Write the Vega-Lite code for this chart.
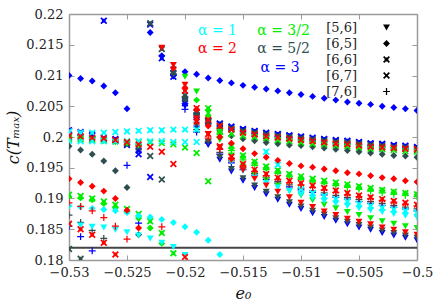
{
"$schema": "https://vega.github.io/schema/vega-lite/v6.json",
"width": 348, "height": 246,
"autosize": {"type": "none"},
"padding": {"left": 69, "top": 14, "right": 19, "bottom": 46},
"background": "white",
"config": {
  "view": {"stroke": null},
  "font": "DejaVu Serif",
  "axis": {"grid": false, "domainColor": "#9a9a9a", "domainWidth": 1.5, "tickColor": "#9a9a9a", "tickWidth": 1, "tickSize": -5,
    "labelFont": "DejaVu Serif", "labelFontSize": 13, "labelColor": "#222", "titleFont": "DejaVu Serif", "titleFontSize": 16, "titleFontWeight": "normal", "titleColor": "#111", "titleFontStyle": "italic"}
},
"datasets": {
"ref": [{"v": 0.182}],
"lab": [
  {"t": "α = 1", "a": "1", "e": -0.5172, "c": 0.2172},
  {"t": "α = 3/2", "a": "3/2", "e": -0.5115, "c": 0.2172},
  {"t": "α = 2", "a": "2", "e": -0.5172, "c": 0.2143},
  {"t": "α = 5/2", "a": "5/2", "e": -0.5115, "c": 0.2143},
  {"t": "α = 3", "a": "3", "e": -0.5118, "c": 0.2112}
],
"pts": [
{"a":"3","s":"[5,6]","e":-0.521,"c":0.2098},{"a":"3","s":"[5,6]","e":-0.52,"c":0.2050},{"a":"3","s":"[5,6]","e":-0.519,"c":0.2014},{"a":"3","s":"[5,6]","e":-0.518,"c":0.1987},{"a":"3","s":"[5,6]","e":-0.517,"c":0.1963},{"a":"3","s":"[5,6]","e":-0.516,"c":0.1944},{"a":"3","s":"[5,6]","e":-0.515,"c":0.1929},{"a":"3","s":"[5,6]","e":-0.514,"c":0.1917},{"a":"3","s":"[5,6]","e":-0.513,"c":0.1907},{"a":"3","s":"[5,6]","e":-0.512,"c":0.1898},{"a":"3","s":"[5,6]","e":-0.511,"c":0.1890},{"a":"3","s":"[5,6]","e":-0.51,"c":0.1883},{"a":"3","s":"[5,6]","e":-0.509,"c":0.1876},{"a":"3","s":"[5,6]","e":-0.508,"c":0.1870},{"a":"3","s":"[5,6]","e":-0.507,"c":0.1864},{"a":"3","s":"[5,6]","e":-0.506,"c":0.1858},{"a":"3","s":"[5,6]","e":-0.505,"c":0.1853},{"a":"3","s":"[5,6]","e":-0.504,"c":0.1849},{"a":"3","s":"[5,6]","e":-0.503,"c":0.1844},{"a":"3","s":"[5,6]","e":-0.502,"c":0.1840},{"a":"3","s":"[5,6]","e":-0.501,"c":0.1836},{"a":"3","s":"[5,6]","e":-0.5,"c":0.1832},
{"a":"3","s":"[6,5]","e":-0.53,"c":0.2100},{"a":"3","s":"[6,5]","e":-0.529,"c":0.2095},{"a":"3","s":"[6,5]","e":-0.528,"c":0.2091},{"a":"3","s":"[6,5]","e":-0.527,"c":0.2083},{"a":"3","s":"[6,5]","e":-0.526,"c":0.2072},{"a":"3","s":"[6,5]","e":-0.525,"c":0.2046},{"a":"3","s":"[6,5]","e":-0.523,"c":0.2170},{"a":"3","s":"[6,5]","e":-0.522,"c":0.2132},{"a":"3","s":"[6,5]","e":-0.521,"c":0.2100},{"a":"3","s":"[6,5]","e":-0.52,"c":0.2106},{"a":"3","s":"[6,5]","e":-0.519,"c":0.2102},{"a":"3","s":"[6,5]","e":-0.518,"c":0.2096},{"a":"3","s":"[6,5]","e":-0.517,"c":0.2092},{"a":"3","s":"[6,5]","e":-0.516,"c":0.2088},{"a":"3","s":"[6,5]","e":-0.515,"c":0.2084},{"a":"3","s":"[6,5]","e":-0.514,"c":0.2081},{"a":"3","s":"[6,5]","e":-0.513,"c":0.2078},{"a":"3","s":"[6,5]","e":-0.512,"c":0.2075},{"a":"3","s":"[6,5]","e":-0.511,"c":0.2072},{"a":"3","s":"[6,5]","e":-0.51,"c":0.2069},{"a":"3","s":"[6,5]","e":-0.509,"c":0.2066},{"a":"3","s":"[6,5]","e":-0.508,"c":0.2063},{"a":"3","s":"[6,5]","e":-0.507,"c":0.2060},{"a":"3","s":"[6,5]","e":-0.506,"c":0.2057},{"a":"3","s":"[6,5]","e":-0.505,"c":0.2055},{"a":"3","s":"[6,5]","e":-0.504,"c":0.2053},{"a":"3","s":"[6,5]","e":-0.503,"c":0.2050},{"a":"3","s":"[6,5]","e":-0.502,"c":0.2048},{"a":"3","s":"[6,5]","e":-0.501,"c":0.2046},{"a":"3","s":"[6,5]","e":-0.5,"c":0.2043},
{"a":"3","s":"[6,6]","e":-0.53,"c":0.2011},{"a":"3","s":"[6,6]","e":-0.529,"c":0.2008},{"a":"3","s":"[6,6]","e":-0.528,"c":0.2004},{"a":"3","s":"[6,6]","e":-0.527,"c":0.2189},{"a":"3","s":"[6,6]","e":-0.526,"c":0.1997},{"a":"3","s":"[6,6]","e":-0.525,"c":0.1990},{"a":"3","s":"[6,6]","e":-0.524,"c":0.1978},{"a":"3","s":"[6,6]","e":-0.523,"c":0.2183},{"a":"3","s":"[6,6]","e":-0.522,"c":0.2128},{"a":"3","s":"[6,6]","e":-0.521,"c":0.2104},{"a":"3","s":"[6,6]","e":-0.52,"c":0.2058},{"a":"3","s":"[6,6]","e":-0.519,"c":0.2035},{"a":"3","s":"[6,6]","e":-0.518,"c":0.2027},{"a":"3","s":"[6,6]","e":-0.517,"c":0.2022},{"a":"3","s":"[6,6]","e":-0.516,"c":0.2017},{"a":"3","s":"[6,6]","e":-0.515,"c":0.2013},{"a":"3","s":"[6,6]","e":-0.514,"c":0.2010},{"a":"3","s":"[6,6]","e":-0.513,"c":0.2007},{"a":"3","s":"[6,6]","e":-0.512,"c":0.2005},{"a":"3","s":"[6,6]","e":-0.511,"c":0.2003},{"a":"3","s":"[6,6]","e":-0.51,"c":0.2001},{"a":"3","s":"[6,6]","e":-0.509,"c":0.1999},{"a":"3","s":"[6,6]","e":-0.508,"c":0.1997},{"a":"3","s":"[6,6]","e":-0.507,"c":0.1995},{"a":"3","s":"[6,6]","e":-0.506,"c":0.1994},{"a":"3","s":"[6,6]","e":-0.505,"c":0.1992},{"a":"3","s":"[6,6]","e":-0.504,"c":0.1990},{"a":"3","s":"[6,6]","e":-0.503,"c":0.1989},{"a":"3","s":"[6,6]","e":-0.502,"c":0.1987},{"a":"3","s":"[6,6]","e":-0.501,"c":0.1986},{"a":"3","s":"[6,6]","e":-0.5,"c":0.1984},
{"a":"3","s":"[6,7]","e":-0.53,"c":0.2010},{"a":"3","s":"[6,7]","e":-0.529,"c":0.2006},{"a":"3","s":"[6,7]","e":-0.528,"c":0.2002},{"a":"3","s":"[6,7]","e":-0.527,"c":0.1999},{"a":"3","s":"[6,7]","e":-0.526,"c":0.1995},{"a":"3","s":"[6,7]","e":-0.525,"c":0.1987},{"a":"3","s":"[6,7]","e":-0.524,"c":0.1972},{"a":"3","s":"[6,7]","e":-0.523,"c":0.1935},{"a":"3","s":"[6,7]","e":-0.521,"c":0.2098},{"a":"3","s":"[6,7]","e":-0.52,"c":0.2055},{"a":"3","s":"[6,7]","e":-0.519,"c":0.2032},{"a":"3","s":"[6,7]","e":-0.518,"c":0.2026},{"a":"3","s":"[6,7]","e":-0.517,"c":0.2021},{"a":"3","s":"[6,7]","e":-0.516,"c":0.2016},{"a":"3","s":"[6,7]","e":-0.515,"c":0.2012},{"a":"3","s":"[6,7]","e":-0.514,"c":0.2009},{"a":"3","s":"[6,7]","e":-0.513,"c":0.2006},{"a":"3","s":"[6,7]","e":-0.512,"c":0.2004},{"a":"3","s":"[6,7]","e":-0.511,"c":0.2002},{"a":"3","s":"[6,7]","e":-0.51,"c":0.2000},{"a":"3","s":"[6,7]","e":-0.509,"c":0.1998},{"a":"3","s":"[6,7]","e":-0.508,"c":0.1996},{"a":"3","s":"[6,7]","e":-0.507,"c":0.1994},{"a":"3","s":"[6,7]","e":-0.506,"c":0.1993},{"a":"3","s":"[6,7]","e":-0.505,"c":0.1991},{"a":"3","s":"[6,7]","e":-0.504,"c":0.1989},{"a":"3","s":"[6,7]","e":-0.503,"c":0.1988},{"a":"3","s":"[6,7]","e":-0.502,"c":0.1986},{"a":"3","s":"[6,7]","e":-0.501,"c":0.1985},{"a":"3","s":"[6,7]","e":-0.5,"c":0.1983},
{"a":"3","s":"[7,6]","e":-0.53,"c":0.1855},{"a":"3","s":"[7,6]","e":-0.529,"c":0.1838},{"a":"3","s":"[7,6]","e":-0.528,"c":0.1815},{"a":"3","s":"[7,6]","e":-0.525,"c":0.1954},{"a":"3","s":"[7,6]","e":-0.524,"c":0.1860},{"a":"3","s":"[7,6]","e":-0.52,"c":0.2045},{"a":"3","s":"[7,6]","e":-0.519,"c":0.2008},{"a":"3","s":"[7,6]","e":-0.518,"c":0.1990},{"a":"3","s":"[7,6]","e":-0.517,"c":0.1972},{"a":"3","s":"[7,6]","e":-0.516,"c":0.1958},{"a":"3","s":"[7,6]","e":-0.515,"c":0.1947},{"a":"3","s":"[7,6]","e":-0.514,"c":0.1938},{"a":"3","s":"[7,6]","e":-0.513,"c":0.1931},{"a":"3","s":"[7,6]","e":-0.512,"c":0.1925},{"a":"3","s":"[7,6]","e":-0.511,"c":0.1919},{"a":"3","s":"[7,6]","e":-0.51,"c":0.1914},{"a":"3","s":"[7,6]","e":-0.509,"c":0.1910},{"a":"3","s":"[7,6]","e":-0.508,"c":0.1906},{"a":"3","s":"[7,6]","e":-0.507,"c":0.1902},{"a":"3","s":"[7,6]","e":-0.506,"c":0.1899},{"a":"3","s":"[7,6]","e":-0.505,"c":0.1895},{"a":"3","s":"[7,6]","e":-0.504,"c":0.1892},{"a":"3","s":"[7,6]","e":-0.503,"c":0.1889},{"a":"3","s":"[7,6]","e":-0.502,"c":0.1886},{"a":"3","s":"[7,6]","e":-0.501,"c":0.1883},{"a":"3","s":"[7,6]","e":-0.5,"c":0.1880},
{"a":"5/2","s":"[5,6]","e":-0.52,"c":0.2060},{"a":"5/2","s":"[5,6]","e":-0.519,"c":0.2020},{"a":"5/2","s":"[5,6]","e":-0.518,"c":0.1992},{"a":"5/2","s":"[5,6]","e":-0.517,"c":0.1967},{"a":"5/2","s":"[5,6]","e":-0.516,"c":0.1948},{"a":"5/2","s":"[5,6]","e":-0.515,"c":0.1933},{"a":"5/2","s":"[5,6]","e":-0.514,"c":0.1921},{"a":"5/2","s":"[5,6]","e":-0.513,"c":0.1911},{"a":"5/2","s":"[5,6]","e":-0.512,"c":0.1902},{"a":"5/2","s":"[5,6]","e":-0.511,"c":0.1894},{"a":"5/2","s":"[5,6]","e":-0.51,"c":0.1887},{"a":"5/2","s":"[5,6]","e":-0.509,"c":0.1880},{"a":"5/2","s":"[5,6]","e":-0.508,"c":0.1874},{"a":"5/2","s":"[5,6]","e":-0.507,"c":0.1868},{"a":"5/2","s":"[5,6]","e":-0.506,"c":0.1862},{"a":"5/2","s":"[5,6]","e":-0.505,"c":0.1857},{"a":"5/2","s":"[5,6]","e":-0.504,"c":0.1853},{"a":"5/2","s":"[5,6]","e":-0.503,"c":0.1848},{"a":"5/2","s":"[5,6]","e":-0.502,"c":0.1844},{"a":"5/2","s":"[5,6]","e":-0.501,"c":0.1840},{"a":"5/2","s":"[5,6]","e":-0.5,"c":0.1836},
{"a":"5/2","s":"[6,5]","e":-0.53,"c":0.1985},{"a":"5/2","s":"[6,5]","e":-0.529,"c":0.1979},{"a":"5/2","s":"[6,5]","e":-0.528,"c":0.1972},{"a":"5/2","s":"[6,5]","e":-0.527,"c":0.1961},{"a":"5/2","s":"[6,5]","e":-0.526,"c":0.1945},{"a":"5/2","s":"[6,5]","e":-0.525,"c":0.1918},{"a":"5/2","s":"[6,5]","e":-0.524,"c":0.1841},{"a":"5/2","s":"[6,5]","e":-0.521,"c":0.2103},{"a":"5/2","s":"[6,5]","e":-0.52,"c":0.2065},{"a":"5/2","s":"[6,5]","e":-0.519,"c":0.2038},{"a":"5/2","s":"[6,5]","e":-0.518,"c":0.2028},{"a":"5/2","s":"[6,5]","e":-0.517,"c":0.2010},{"a":"5/2","s":"[6,5]","e":-0.516,"c":0.2002},{"a":"5/2","s":"[6,5]","e":-0.515,"c":0.1997},{"a":"5/2","s":"[6,5]","e":-0.514,"c":0.1994},{"a":"5/2","s":"[6,5]","e":-0.513,"c":0.1991},{"a":"5/2","s":"[6,5]","e":-0.512,"c":0.1989},{"a":"5/2","s":"[6,5]","e":-0.511,"c":0.1987},{"a":"5/2","s":"[6,5]","e":-0.51,"c":0.1986},{"a":"5/2","s":"[6,5]","e":-0.509,"c":0.1984},{"a":"5/2","s":"[6,5]","e":-0.508,"c":0.1982},{"a":"5/2","s":"[6,5]","e":-0.507,"c":0.1980},{"a":"5/2","s":"[6,5]","e":-0.506,"c":0.1978},{"a":"5/2","s":"[6,5]","e":-0.505,"c":0.1976},{"a":"5/2","s":"[6,5]","e":-0.504,"c":0.1974},{"a":"5/2","s":"[6,5]","e":-0.503,"c":0.1972},{"a":"5/2","s":"[6,5]","e":-0.502,"c":0.1970},{"a":"5/2","s":"[6,5]","e":-0.501,"c":0.1969},{"a":"5/2","s":"[6,5]","e":-0.5,"c":0.1967},
{"a":"5/2","s":"[6,6]","e":-0.53,"c":0.1818},{"a":"5/2","s":"[6,6]","e":-0.529,"c":0.1802},{"a":"5/2","s":"[6,6]","e":-0.523,"c":0.2185},{"a":"5/2","s":"[6,6]","e":-0.522,"c":0.2143},{"a":"5/2","s":"[6,6]","e":-0.521,"c":0.2110},{"a":"5/2","s":"[6,6]","e":-0.52,"c":0.2068},{"a":"5/2","s":"[6,6]","e":-0.519,"c":0.2040},{"a":"5/2","s":"[6,6]","e":-0.518,"c":0.2026},{"a":"5/2","s":"[6,6]","e":-0.517,"c":0.2019},{"a":"5/2","s":"[6,6]","e":-0.516,"c":0.2014},{"a":"5/2","s":"[6,6]","e":-0.515,"c":0.2010},{"a":"5/2","s":"[6,6]","e":-0.514,"c":0.2007},{"a":"5/2","s":"[6,6]","e":-0.513,"c":0.2004},{"a":"5/2","s":"[6,6]","e":-0.512,"c":0.2002},{"a":"5/2","s":"[6,6]","e":-0.511,"c":0.2000},{"a":"5/2","s":"[6,6]","e":-0.51,"c":0.1998},{"a":"5/2","s":"[6,6]","e":-0.509,"c":0.1996},{"a":"5/2","s":"[6,6]","e":-0.508,"c":0.1994},{"a":"5/2","s":"[6,6]","e":-0.507,"c":0.1992},{"a":"5/2","s":"[6,6]","e":-0.506,"c":0.1991},{"a":"5/2","s":"[6,6]","e":-0.505,"c":0.1989},{"a":"5/2","s":"[6,6]","e":-0.504,"c":0.1987},{"a":"5/2","s":"[6,6]","e":-0.503,"c":0.1986},{"a":"5/2","s":"[6,6]","e":-0.502,"c":0.1984},{"a":"5/2","s":"[6,6]","e":-0.501,"c":0.1983},{"a":"5/2","s":"[6,6]","e":-0.5,"c":0.1981},
{"a":"5/2","s":"[6,7]","e":-0.53,"c":0.2000},{"a":"5/2","s":"[6,7]","e":-0.529,"c":0.1999},{"a":"5/2","s":"[6,7]","e":-0.528,"c":0.1997},{"a":"5/2","s":"[6,7]","e":-0.527,"c":0.1996},{"a":"5/2","s":"[6,7]","e":-0.526,"c":0.1993},{"a":"5/2","s":"[6,7]","e":-0.525,"c":0.1989},{"a":"5/2","s":"[6,7]","e":-0.524,"c":0.1983},{"a":"5/2","s":"[6,7]","e":-0.523,"c":0.1969},{"a":"5/2","s":"[6,7]","e":-0.522,"c":0.1931},{"a":"5/2","s":"[6,7]","e":-0.52,"c":0.2062},{"a":"5/2","s":"[6,7]","e":-0.519,"c":0.2036},{"a":"5/2","s":"[6,7]","e":-0.518,"c":0.2024},{"a":"5/2","s":"[6,7]","e":-0.517,"c":0.2017},{"a":"5/2","s":"[6,7]","e":-0.516,"c":0.2012},{"a":"5/2","s":"[6,7]","e":-0.515,"c":0.2008},{"a":"5/2","s":"[6,7]","e":-0.514,"c":0.2005},{"a":"5/2","s":"[6,7]","e":-0.513,"c":0.2002},{"a":"5/2","s":"[6,7]","e":-0.512,"c":0.2000},{"a":"5/2","s":"[6,7]","e":-0.511,"c":0.1998},{"a":"5/2","s":"[6,7]","e":-0.51,"c":0.1996},{"a":"5/2","s":"[6,7]","e":-0.509,"c":0.1994},{"a":"5/2","s":"[6,7]","e":-0.508,"c":0.1992},{"a":"5/2","s":"[6,7]","e":-0.507,"c":0.1990},{"a":"5/2","s":"[6,7]","e":-0.506,"c":0.1989},{"a":"5/2","s":"[6,7]","e":-0.505,"c":0.1987},{"a":"5/2","s":"[6,7]","e":-0.504,"c":0.1985},{"a":"5/2","s":"[6,7]","e":-0.503,"c":0.1984},{"a":"5/2","s":"[6,7]","e":-0.502,"c":0.1982},{"a":"5/2","s":"[6,7]","e":-0.501,"c":0.1981},{"a":"5/2","s":"[6,7]","e":-0.5,"c":0.1979},
{"a":"5/2","s":"[7,6]","e":-0.53,"c":0.1873},{"a":"5/2","s":"[7,6]","e":-0.529,"c":0.1861},{"a":"5/2","s":"[7,6]","e":-0.528,"c":0.1848},{"a":"5/2","s":"[7,6]","e":-0.527,"c":0.1835},{"a":"5/2","s":"[7,6]","e":-0.519,"c":0.2012},{"a":"5/2","s":"[7,6]","e":-0.518,"c":0.1993},{"a":"5/2","s":"[7,6]","e":-0.517,"c":0.1975},{"a":"5/2","s":"[7,6]","e":-0.516,"c":0.1961},{"a":"5/2","s":"[7,6]","e":-0.515,"c":0.1950},{"a":"5/2","s":"[7,6]","e":-0.514,"c":0.1941},{"a":"5/2","s":"[7,6]","e":-0.513,"c":0.1934},{"a":"5/2","s":"[7,6]","e":-0.512,"c":0.1928},{"a":"5/2","s":"[7,6]","e":-0.511,"c":0.1922},{"a":"5/2","s":"[7,6]","e":-0.51,"c":0.1917},{"a":"5/2","s":"[7,6]","e":-0.509,"c":0.1913},{"a":"5/2","s":"[7,6]","e":-0.508,"c":0.1909},{"a":"5/2","s":"[7,6]","e":-0.507,"c":0.1905},{"a":"5/2","s":"[7,6]","e":-0.506,"c":0.1902},{"a":"5/2","s":"[7,6]","e":-0.505,"c":0.1898},{"a":"5/2","s":"[7,6]","e":-0.504,"c":0.1895},{"a":"5/2","s":"[7,6]","e":-0.503,"c":0.1892},{"a":"5/2","s":"[7,6]","e":-0.502,"c":0.1889},{"a":"5/2","s":"[7,6]","e":-0.501,"c":0.1886},{"a":"5/2","s":"[7,6]","e":-0.5,"c":0.1883},
{"a":"3/2","s":"[5,6]","e":-0.53,"c":0.1997},{"a":"3/2","s":"[5,6]","e":-0.529,"c":0.1996},{"a":"3/2","s":"[5,6]","e":-0.528,"c":0.1995},{"a":"3/2","s":"[5,6]","e":-0.527,"c":0.1993},{"a":"3/2","s":"[5,6]","e":-0.526,"c":0.1991},{"a":"3/2","s":"[5,6]","e":-0.525,"c":0.1989},{"a":"3/2","s":"[5,6]","e":-0.524,"c":0.1986},{"a":"3/2","s":"[5,6]","e":-0.52,"c":0.2098},{"a":"3/2","s":"[5,6]","e":-0.519,"c":0.2074},{"a":"3/2","s":"[5,6]","e":-0.518,"c":0.2040},{"a":"3/2","s":"[5,6]","e":-0.517,"c":0.1995},{"a":"3/2","s":"[5,6]","e":-0.516,"c":0.1970},{"a":"3/2","s":"[5,6]","e":-0.515,"c":0.1952},{"a":"3/2","s":"[5,6]","e":-0.514,"c":0.1940},{"a":"3/2","s":"[5,6]","e":-0.513,"c":0.1930},{"a":"3/2","s":"[5,6]","e":-0.512,"c":0.1921},{"a":"3/2","s":"[5,6]","e":-0.511,"c":0.1912},{"a":"3/2","s":"[5,6]","e":-0.51,"c":0.1905},{"a":"3/2","s":"[5,6]","e":-0.509,"c":0.1897},{"a":"3/2","s":"[5,6]","e":-0.508,"c":0.1890},{"a":"3/2","s":"[5,6]","e":-0.507,"c":0.1884},{"a":"3/2","s":"[5,6]","e":-0.506,"c":0.1878},{"a":"3/2","s":"[5,6]","e":-0.505,"c":0.1873},{"a":"3/2","s":"[5,6]","e":-0.504,"c":0.1868},{"a":"3/2","s":"[5,6]","e":-0.503,"c":0.1863},{"a":"3/2","s":"[5,6]","e":-0.502,"c":0.1859},{"a":"3/2","s":"[5,6]","e":-0.501,"c":0.1855},{"a":"3/2","s":"[5,6]","e":-0.5,"c":0.1852},
{"a":"3/2","s":"[6,5]","e":-0.53,"c":0.1903},{"a":"3/2","s":"[6,5]","e":-0.529,"c":0.1901},{"a":"3/2","s":"[6,5]","e":-0.528,"c":0.1898},{"a":"3/2","s":"[6,5]","e":-0.527,"c":0.1892},{"a":"3/2","s":"[6,5]","e":-0.526,"c":0.1885},{"a":"3/2","s":"[6,5]","e":-0.525,"c":0.1879},{"a":"3/2","s":"[6,5]","e":-0.524,"c":0.1868},{"a":"3/2","s":"[6,5]","e":-0.523,"c":0.1852},{"a":"3/2","s":"[6,5]","e":-0.522,"c":0.1827},{"a":"3/2","s":"[6,5]","e":-0.519,"c":0.2060},{"a":"3/2","s":"[6,5]","e":-0.518,"c":0.2035},{"a":"3/2","s":"[6,5]","e":-0.517,"c":0.2005},{"a":"3/2","s":"[6,5]","e":-0.516,"c":0.1982},{"a":"3/2","s":"[6,5]","e":-0.515,"c":0.1968},{"a":"3/2","s":"[6,5]","e":-0.514,"c":0.1958},{"a":"3/2","s":"[6,5]","e":-0.513,"c":0.1950},{"a":"3/2","s":"[6,5]","e":-0.512,"c":0.1944},{"a":"3/2","s":"[6,5]","e":-0.511,"c":0.1938},{"a":"3/2","s":"[6,5]","e":-0.51,"c":0.1934},{"a":"3/2","s":"[6,5]","e":-0.509,"c":0.1930},{"a":"3/2","s":"[6,5]","e":-0.508,"c":0.1927},{"a":"3/2","s":"[6,5]","e":-0.507,"c":0.1924},{"a":"3/2","s":"[6,5]","e":-0.506,"c":0.1921},{"a":"3/2","s":"[6,5]","e":-0.505,"c":0.1918},{"a":"3/2","s":"[6,5]","e":-0.504,"c":0.1915},{"a":"3/2","s":"[6,5]","e":-0.503,"c":0.1913},{"a":"3/2","s":"[6,5]","e":-0.502,"c":0.1910},{"a":"3/2","s":"[6,5]","e":-0.501,"c":0.1908},{"a":"3/2","s":"[6,5]","e":-0.5,"c":0.1906},
{"a":"3/2","s":"[6,6]","e":-0.53,"c":0.1906},{"a":"3/2","s":"[6,6]","e":-0.529,"c":0.1904},{"a":"3/2","s":"[6,6]","e":-0.528,"c":0.1900},{"a":"3/2","s":"[6,6]","e":-0.527,"c":0.1895},{"a":"3/2","s":"[6,6]","e":-0.526,"c":0.1890},{"a":"3/2","s":"[6,6]","e":-0.525,"c":0.1883},{"a":"3/2","s":"[6,6]","e":-0.524,"c":0.1875},{"a":"3/2","s":"[6,6]","e":-0.523,"c":0.1863},{"a":"3/2","s":"[6,6]","e":-0.522,"c":0.1844},{"a":"3/2","s":"[6,6]","e":-0.521,"c":0.1811},{"a":"3/2","s":"[6,6]","e":-0.518,"c":0.2047},{"a":"3/2","s":"[6,6]","e":-0.517,"c":0.2010},{"a":"3/2","s":"[6,6]","e":-0.516,"c":0.1985},{"a":"3/2","s":"[6,6]","e":-0.515,"c":0.1970},{"a":"3/2","s":"[6,6]","e":-0.514,"c":0.1960},{"a":"3/2","s":"[6,6]","e":-0.513,"c":0.1952},{"a":"3/2","s":"[6,6]","e":-0.512,"c":0.1946},{"a":"3/2","s":"[6,6]","e":-0.511,"c":0.1940},{"a":"3/2","s":"[6,6]","e":-0.51,"c":0.1936},{"a":"3/2","s":"[6,6]","e":-0.509,"c":0.1932},{"a":"3/2","s":"[6,6]","e":-0.508,"c":0.1929},{"a":"3/2","s":"[6,6]","e":-0.507,"c":0.1926},{"a":"3/2","s":"[6,6]","e":-0.506,"c":0.1923},{"a":"3/2","s":"[6,6]","e":-0.505,"c":0.1920},{"a":"3/2","s":"[6,6]","e":-0.504,"c":0.1917},{"a":"3/2","s":"[6,6]","e":-0.503,"c":0.1914},{"a":"3/2","s":"[6,6]","e":-0.502,"c":0.1911},{"a":"3/2","s":"[6,6]","e":-0.501,"c":0.1909},{"a":"3/2","s":"[6,6]","e":-0.5,"c":0.1907},
{"a":"3/2","s":"[6,7]","e":-0.53,"c":0.1997},{"a":"3/2","s":"[6,7]","e":-0.529,"c":0.1996},{"a":"3/2","s":"[6,7]","e":-0.528,"c":0.1995},{"a":"3/2","s":"[6,7]","e":-0.527,"c":0.1994},{"a":"3/2","s":"[6,7]","e":-0.526,"c":0.1993},{"a":"3/2","s":"[6,7]","e":-0.525,"c":0.1992},{"a":"3/2","s":"[6,7]","e":-0.524,"c":0.1992},{"a":"3/2","s":"[6,7]","e":-0.523,"c":0.1991},{"a":"3/2","s":"[6,7]","e":-0.522,"c":0.1990},{"a":"3/2","s":"[6,7]","e":-0.521,"c":0.1988},{"a":"3/2","s":"[6,7]","e":-0.52,"c":0.1983},{"a":"3/2","s":"[6,7]","e":-0.519,"c":0.1974},{"a":"3/2","s":"[6,7]","e":-0.518,"c":0.1928},{"a":"3/2","s":"[6,7]","e":-0.517,"c":0.2008},{"a":"3/2","s":"[6,7]","e":-0.516,"c":0.2005},{"a":"3/2","s":"[6,7]","e":-0.515,"c":0.2002},{"a":"3/2","s":"[6,7]","e":-0.514,"c":0.2000},{"a":"3/2","s":"[6,7]","e":-0.513,"c":0.1998},{"a":"3/2","s":"[6,7]","e":-0.512,"c":0.1995},{"a":"3/2","s":"[6,7]","e":-0.511,"c":0.1993},{"a":"3/2","s":"[6,7]","e":-0.51,"c":0.1991},{"a":"3/2","s":"[6,7]","e":-0.509,"c":0.1989},{"a":"3/2","s":"[6,7]","e":-0.508,"c":0.1988},{"a":"3/2","s":"[6,7]","e":-0.507,"c":0.1986},{"a":"3/2","s":"[6,7]","e":-0.506,"c":0.1985},{"a":"3/2","s":"[6,7]","e":-0.505,"c":0.1983},{"a":"3/2","s":"[6,7]","e":-0.504,"c":0.1981},{"a":"3/2","s":"[6,7]","e":-0.503,"c":0.1980},{"a":"3/2","s":"[6,7]","e":-0.502,"c":0.1979},{"a":"3/2","s":"[6,7]","e":-0.501,"c":0.1977},{"a":"3/2","s":"[6,7]","e":-0.5,"c":0.1976},
{"a":"3/2","s":"[7,6]","e":-0.517,"c":0.2000},{"a":"3/2","s":"[7,6]","e":-0.516,"c":0.1978},{"a":"3/2","s":"[7,6]","e":-0.515,"c":0.1963},{"a":"3/2","s":"[7,6]","e":-0.514,"c":0.1954},{"a":"3/2","s":"[7,6]","e":-0.513,"c":0.1947},{"a":"3/2","s":"[7,6]","e":-0.512,"c":0.1941},{"a":"3/2","s":"[7,6]","e":-0.511,"c":0.1935},{"a":"3/2","s":"[7,6]","e":-0.51,"c":0.1931},{"a":"3/2","s":"[7,6]","e":-0.509,"c":0.1927},{"a":"3/2","s":"[7,6]","e":-0.508,"c":0.1924},{"a":"3/2","s":"[7,6]","e":-0.507,"c":0.1921},{"a":"3/2","s":"[7,6]","e":-0.506,"c":0.1918},{"a":"3/2","s":"[7,6]","e":-0.505,"c":0.1915},{"a":"3/2","s":"[7,6]","e":-0.504,"c":0.1912},{"a":"3/2","s":"[7,6]","e":-0.503,"c":0.1909},{"a":"3/2","s":"[7,6]","e":-0.502,"c":0.1907},{"a":"3/2","s":"[7,6]","e":-0.501,"c":0.1905},{"a":"3/2","s":"[7,6]","e":-0.5,"c":0.1903},
{"a":"1","s":"[5,6]","e":-0.53,"c":0.1858},{"a":"1","s":"[5,6]","e":-0.529,"c":0.1856},{"a":"1","s":"[5,6]","e":-0.528,"c":0.1854},{"a":"1","s":"[5,6]","e":-0.527,"c":0.1853},{"a":"1","s":"[5,6]","e":-0.526,"c":0.1849},{"a":"1","s":"[5,6]","e":-0.525,"c":0.1845},{"a":"1","s":"[5,6]","e":-0.524,"c":0.1840},{"a":"1","s":"[5,6]","e":-0.523,"c":0.1835},{"a":"1","s":"[5,6]","e":-0.522,"c":0.1828},{"a":"1","s":"[5,6]","e":-0.521,"c":0.1821},{"a":"1","s":"[5,6]","e":-0.52,"c":0.1808},{"a":"1","s":"[5,6]","e":-0.516,"c":0.1960},{"a":"1","s":"[5,6]","e":-0.515,"c":0.1945},{"a":"1","s":"[5,6]","e":-0.514,"c":0.1934},{"a":"1","s":"[5,6]","e":-0.513,"c":0.1925},{"a":"1","s":"[5,6]","e":-0.512,"c":0.1918},{"a":"1","s":"[5,6]","e":-0.511,"c":0.1912},{"a":"1","s":"[5,6]","e":-0.51,"c":0.1906},{"a":"1","s":"[5,6]","e":-0.509,"c":0.1901},{"a":"1","s":"[5,6]","e":-0.508,"c":0.1896},{"a":"1","s":"[5,6]","e":-0.507,"c":0.1892},{"a":"1","s":"[5,6]","e":-0.506,"c":0.1888},{"a":"1","s":"[5,6]","e":-0.505,"c":0.1884},{"a":"1","s":"[5,6]","e":-0.504,"c":0.1881},{"a":"1","s":"[5,6]","e":-0.503,"c":0.1878},{"a":"1","s":"[5,6]","e":-0.502,"c":0.1875},{"a":"1","s":"[5,6]","e":-0.501,"c":0.1872},{"a":"1","s":"[5,6]","e":-0.5,"c":0.1869},
{"a":"1","s":"[6,5]","e":-0.53,"c":0.1888},{"a":"1","s":"[6,5]","e":-0.529,"c":0.1886},{"a":"1","s":"[6,5]","e":-0.528,"c":0.1884},{"a":"1","s":"[6,5]","e":-0.527,"c":0.1882},{"a":"1","s":"[6,5]","e":-0.526,"c":0.1880},{"a":"1","s":"[6,5]","e":-0.525,"c":0.1877},{"a":"1","s":"[6,5]","e":-0.524,"c":0.1872},{"a":"1","s":"[6,5]","e":-0.523,"c":0.1870},{"a":"1","s":"[6,5]","e":-0.522,"c":0.1866},{"a":"1","s":"[6,5]","e":-0.521,"c":0.1861},{"a":"1","s":"[6,5]","e":-0.52,"c":0.1854},{"a":"1","s":"[6,5]","e":-0.519,"c":0.1845},{"a":"1","s":"[6,5]","e":-0.518,"c":0.1832},{"a":"1","s":"[6,5]","e":-0.517,"c":0.1809},
{"a":"1","s":"[6,6]","e":-0.53,"c":0.2009},{"a":"1","s":"[6,6]","e":-0.529,"c":0.2007},{"a":"1","s":"[6,6]","e":-0.528,"c":0.2007},{"a":"1","s":"[6,6]","e":-0.527,"c":0.2007},{"a":"1","s":"[6,6]","e":-0.526,"c":0.2008},{"a":"1","s":"[6,6]","e":-0.525,"c":0.2009},{"a":"1","s":"[6,6]","e":-0.524,"c":0.2010},{"a":"1","s":"[6,6]","e":-0.523,"c":0.2011},{"a":"1","s":"[6,6]","e":-0.522,"c":0.2011},{"a":"1","s":"[6,6]","e":-0.521,"c":0.2012},{"a":"1","s":"[6,6]","e":-0.52,"c":0.2012},{"a":"1","s":"[6,6]","e":-0.519,"c":0.2012},{"a":"1","s":"[6,6]","e":-0.513,"c":0.1976},{"a":"1","s":"[6,6]","e":-0.512,"c":0.1955},{"a":"1","s":"[6,6]","e":-0.51,"c":0.1915},{"a":"1","s":"[6,6]","e":-0.509,"c":0.1909},{"a":"1","s":"[6,6]","e":-0.508,"c":0.1904},{"a":"1","s":"[6,6]","e":-0.507,"c":0.1899},{"a":"1","s":"[6,6]","e":-0.506,"c":0.1895},{"a":"1","s":"[6,6]","e":-0.505,"c":0.1891},{"a":"1","s":"[6,6]","e":-0.504,"c":0.1888},{"a":"1","s":"[6,6]","e":-0.503,"c":0.1885},{"a":"1","s":"[6,6]","e":-0.502,"c":0.1882},{"a":"1","s":"[6,6]","e":-0.501,"c":0.1880},{"a":"1","s":"[6,6]","e":-0.5,"c":0.1877},
{"a":"1","s":"[6,7]","e":-0.53,"c":0.1994},{"a":"1","s":"[6,7]","e":-0.529,"c":0.1993},{"a":"1","s":"[6,7]","e":-0.528,"c":0.1993},{"a":"1","s":"[6,7]","e":-0.527,"c":0.1993},{"a":"1","s":"[6,7]","e":-0.526,"c":0.1993},{"a":"1","s":"[6,7]","e":-0.525,"c":0.1993},{"a":"1","s":"[6,7]","e":-0.524,"c":0.1993},{"a":"1","s":"[6,7]","e":-0.523,"c":0.1993},{"a":"1","s":"[6,7]","e":-0.522,"c":0.1993},{"a":"1","s":"[6,7]","e":-0.521,"c":0.1992},{"a":"1","s":"[6,7]","e":-0.52,"c":0.1992},{"a":"1","s":"[6,7]","e":-0.519,"c":0.1992},
{"a":"2","s":"[5,6]","e":-0.522,"c":0.2145},{"a":"2","s":"[5,6]","e":-0.521,"c":0.2117},{"a":"2","s":"[5,6]","e":-0.52,"c":0.2085},{"a":"2","s":"[5,6]","e":-0.519,"c":0.2030},{"a":"2","s":"[5,6]","e":-0.518,"c":0.2005},{"a":"2","s":"[5,6]","e":-0.517,"c":0.1983},{"a":"2","s":"[5,6]","e":-0.516,"c":0.1962},{"a":"2","s":"[5,6]","e":-0.515,"c":0.1946},{"a":"2","s":"[5,6]","e":-0.514,"c":0.1932},{"a":"2","s":"[5,6]","e":-0.513,"c":0.1921},{"a":"2","s":"[5,6]","e":-0.512,"c":0.1911},{"a":"2","s":"[5,6]","e":-0.511,"c":0.1902},{"a":"2","s":"[5,6]","e":-0.51,"c":0.1893},{"a":"2","s":"[5,6]","e":-0.509,"c":0.1886},{"a":"2","s":"[5,6]","e":-0.508,"c":0.1879},{"a":"2","s":"[5,6]","e":-0.507,"c":0.1873},{"a":"2","s":"[5,6]","e":-0.506,"c":0.1867},{"a":"2","s":"[5,6]","e":-0.505,"c":0.1862},{"a":"2","s":"[5,6]","e":-0.504,"c":0.1858},{"a":"2","s":"[5,6]","e":-0.503,"c":0.1853},{"a":"2","s":"[5,6]","e":-0.502,"c":0.1849},{"a":"2","s":"[5,6]","e":-0.501,"c":0.1845},{"a":"2","s":"[5,6]","e":-0.5,"c":0.1841},
{"a":"2","s":"[6,5]","e":-0.53,"c":0.1932},{"a":"2","s":"[6,5]","e":-0.529,"c":0.1926},{"a":"2","s":"[6,5]","e":-0.528,"c":0.1920},{"a":"2","s":"[6,5]","e":-0.527,"c":0.1912},{"a":"2","s":"[6,5]","e":-0.526,"c":0.1900},{"a":"2","s":"[6,5]","e":-0.525,"c":0.1881},{"a":"2","s":"[6,5]","e":-0.524,"c":0.1852},{"a":"2","s":"[6,5]","e":-0.521,"c":0.2112},{"a":"2","s":"[6,5]","e":-0.52,"c":0.2080},{"a":"2","s":"[6,5]","e":-0.519,"c":0.2045},{"a":"2","s":"[6,5]","e":-0.518,"c":0.2018},{"a":"2","s":"[6,5]","e":-0.517,"c":0.2000},{"a":"2","s":"[6,5]","e":-0.516,"c":0.1990},{"a":"2","s":"[6,5]","e":-0.515,"c":0.1981},{"a":"2","s":"[6,5]","e":-0.514,"c":0.1973},{"a":"2","s":"[6,5]","e":-0.513,"c":0.1967},{"a":"2","s":"[6,5]","e":-0.512,"c":0.1962},{"a":"2","s":"[6,5]","e":-0.511,"c":0.1957},{"a":"2","s":"[6,5]","e":-0.51,"c":0.1953},{"a":"2","s":"[6,5]","e":-0.509,"c":0.1951},{"a":"2","s":"[6,5]","e":-0.508,"c":0.1948},{"a":"2","s":"[6,5]","e":-0.507,"c":0.1945},{"a":"2","s":"[6,5]","e":-0.506,"c":0.1942},{"a":"2","s":"[6,5]","e":-0.505,"c":0.1940},{"a":"2","s":"[6,5]","e":-0.504,"c":0.1937},{"a":"2","s":"[6,5]","e":-0.503,"c":0.1934},{"a":"2","s":"[6,5]","e":-0.502,"c":0.1932},{"a":"2","s":"[6,5]","e":-0.501,"c":0.1929},{"a":"2","s":"[6,5]","e":-0.5,"c":0.1927},
{"a":"2","s":"[6,6]","e":-0.53,"c":0.1859},{"a":"2","s":"[6,6]","e":-0.529,"c":0.1850},{"a":"2","s":"[6,6]","e":-0.528,"c":0.1841},{"a":"2","s":"[6,6]","e":-0.527,"c":0.1828},{"a":"2","s":"[6,6]","e":-0.526,"c":0.1809},{"a":"2","s":"[6,6]","e":-0.52,"c":0.2075},{"a":"2","s":"[6,6]","e":-0.519,"c":0.2025},{"a":"2","s":"[6,6]","e":-0.518,"c":0.2005},{"a":"2","s":"[6,6]","e":-0.517,"c":0.1985},{"a":"2","s":"[6,6]","e":-0.516,"c":0.1968},{"a":"2","s":"[6,6]","e":-0.515,"c":0.1956},{"a":"2","s":"[6,6]","e":-0.514,"c":0.1947},{"a":"2","s":"[6,6]","e":-0.513,"c":0.1940},{"a":"2","s":"[6,6]","e":-0.512,"c":0.1934},{"a":"2","s":"[6,6]","e":-0.511,"c":0.1929},{"a":"2","s":"[6,6]","e":-0.51,"c":0.1925},{"a":"2","s":"[6,6]","e":-0.509,"c":0.1921},{"a":"2","s":"[6,6]","e":-0.508,"c":0.1917},{"a":"2","s":"[6,6]","e":-0.507,"c":0.1913},{"a":"2","s":"[6,6]","e":-0.506,"c":0.1909},{"a":"2","s":"[6,6]","e":-0.505,"c":0.1905},{"a":"2","s":"[6,6]","e":-0.504,"c":0.1902},{"a":"2","s":"[6,6]","e":-0.503,"c":0.1899},{"a":"2","s":"[6,6]","e":-0.502,"c":0.1896},{"a":"2","s":"[6,6]","e":-0.501,"c":0.1893},{"a":"2","s":"[6,6]","e":-0.5,"c":0.1890},
{"a":"2","s":"[6,7]","e":-0.53,"c":0.2002},{"a":"2","s":"[6,7]","e":-0.529,"c":0.2001},{"a":"2","s":"[6,7]","e":-0.528,"c":0.1999},{"a":"2","s":"[6,7]","e":-0.527,"c":0.1998},{"a":"2","s":"[6,7]","e":-0.526,"c":0.1995},{"a":"2","s":"[6,7]","e":-0.525,"c":0.1992},{"a":"2","s":"[6,7]","e":-0.524,"c":0.1988},{"a":"2","s":"[6,7]","e":-0.523,"c":0.1984},{"a":"2","s":"[6,7]","e":-0.522,"c":0.1976},{"a":"2","s":"[6,7]","e":-0.521,"c":0.1956},{"a":"2","s":"[6,7]","e":-0.52,"c":0.1805},{"a":"2","s":"[6,7]","e":-0.519,"c":0.2047},{"a":"2","s":"[6,7]","e":-0.518,"c":0.2028},{"a":"2","s":"[6,7]","e":-0.517,"c":0.2018},{"a":"2","s":"[6,7]","e":-0.516,"c":0.2012},{"a":"2","s":"[6,7]","e":-0.515,"c":0.2007},{"a":"2","s":"[6,7]","e":-0.514,"c":0.2004},{"a":"2","s":"[6,7]","e":-0.513,"c":0.2001},{"a":"2","s":"[6,7]","e":-0.512,"c":0.1999},{"a":"2","s":"[6,7]","e":-0.511,"c":0.1997},{"a":"2","s":"[6,7]","e":-0.51,"c":0.1995},{"a":"2","s":"[6,7]","e":-0.509,"c":0.1993},{"a":"2","s":"[6,7]","e":-0.508,"c":0.1991},{"a":"2","s":"[6,7]","e":-0.507,"c":0.1989},{"a":"2","s":"[6,7]","e":-0.506,"c":0.1988},{"a":"2","s":"[6,7]","e":-0.505,"c":0.1986},{"a":"2","s":"[6,7]","e":-0.504,"c":0.1984},{"a":"2","s":"[6,7]","e":-0.503,"c":0.1983},{"a":"2","s":"[6,7]","e":-0.502,"c":0.1982},{"a":"2","s":"[6,7]","e":-0.501,"c":0.1981},{"a":"2","s":"[6,7]","e":-0.5,"c":0.1980},
{"a":"2","s":"[7,6]","e":-0.53,"c":0.1893},{"a":"2","s":"[7,6]","e":-0.529,"c":0.1887},{"a":"2","s":"[7,6]","e":-0.528,"c":0.1880},{"a":"2","s":"[7,6]","e":-0.527,"c":0.1869},{"a":"2","s":"[7,6]","e":-0.526,"c":0.1855},{"a":"2","s":"[7,6]","e":-0.525,"c":0.1834},{"a":"2","s":"[7,6]","e":-0.522,"c":0.1854},{"a":"2","s":"[7,6]","e":-0.518,"c":0.1998},{"a":"2","s":"[7,6]","e":-0.517,"c":0.1980},{"a":"2","s":"[7,6]","e":-0.516,"c":0.1965},{"a":"2","s":"[7,6]","e":-0.515,"c":0.1953},{"a":"2","s":"[7,6]","e":-0.514,"c":0.1944},{"a":"2","s":"[7,6]","e":-0.513,"c":0.1937},{"a":"2","s":"[7,6]","e":-0.512,"c":0.1931},{"a":"2","s":"[7,6]","e":-0.511,"c":0.1926},{"a":"2","s":"[7,6]","e":-0.51,"c":0.1922},{"a":"2","s":"[7,6]","e":-0.509,"c":0.1918},{"a":"2","s":"[7,6]","e":-0.508,"c":0.1914},{"a":"2","s":"[7,6]","e":-0.507,"c":0.1910},{"a":"2","s":"[7,6]","e":-0.506,"c":0.1906},{"a":"2","s":"[7,6]","e":-0.505,"c":0.1903},{"a":"2","s":"[7,6]","e":-0.504,"c":0.1900},{"a":"2","s":"[7,6]","e":-0.503,"c":0.1897},{"a":"2","s":"[7,6]","e":-0.502,"c":0.1894},{"a":"2","s":"[7,6]","e":-0.501,"c":0.1891},{"a":"2","s":"[7,6]","e":-0.5,"c":0.1888}
]
},
"resolve": {"axis": {"x": "independent", "y": "independent"}},
"layer": [
  {
    "data": {"name": "ref"},
    "mark": {"type": "rule", "color": "#444444", "strokeWidth": 2},
    "encoding": {
      "y": {"field": "v", "type": "quantitative", "scale": {"domain": [0.18, 0.22], "nice": false, "zero": false}, "axis": null}
    }
  },
  {
    "data": {"name": "pts"},
    "mark": {"type": "point", "filled": true, "size": 48, "opacity": 1, "strokeWidth": 0, "clip": true},
    "encoding": {
      "x": {"field": "e", "type": "quantitative", "scale": {"domain": [-0.53, -0.5], "nice": false, "zero": false},
        "axis": {"orient": "bottom", "title": "e₀", "values": [-0.53, -0.525, -0.52, -0.515, -0.51, -0.505, -0.5], "format": "~g", "labelPadding": 11, "titlePadding": 6, "labelFlush": false}},
      "y": {"field": "c", "type": "quantitative", "scale": {"domain": [0.18, 0.22], "nice": false, "zero": false},
        "axis": {"orient": "left", "title": "c(Tₘₐₓ)", "values": [0.18, 0.185, 0.19, 0.195, 0.2, 0.205, 0.21, 0.215, 0.22], "format": "~g", "labelPadding": 11, "titleX": -56, "titleAlign": "center", "titleBaseline": "middle", "labelFlush": false}},
      "color": {"field": "a", "type": "nominal", "scale": {"domain": ["1", "3/2", "2", "5/2", "3"], "range": ["#00ffff", "#00ee00", "#ff0000", "#2f4f4f", "#0000ff"]}, "legend": null},
      "shape": {"field": "s", "type": "nominal",
        "scale": {"domain": ["[5,6]", "[6,5]", "[6,6]", "[6,7]", "[7,6]"],
          "range": ["triangle-down", "diamond",
            "M-0.55,-0.55H0.55V0.55H-0.55Z M-1,-0.65L-0.65,-1L0,-0.35L0.65,-1L1,-0.65L0.35,0L1,0.65L0.65,1L0,0.35L-0.65,1L-1,0.65L-0.35,0Z",
            "M-1,-0.65L-0.65,-1L0,-0.35L0.65,-1L1,-0.65L0.35,0L1,0.65L0.65,1L0,0.35L-0.65,1L-1,0.65L-0.35,0Z",
            "M-1,-0.18H-0.18V-1H0.18V-0.18H1V0.18H0.18V1H-0.18V0.18H-1Z"]},
        "legend": {"orient": "none", "legendX": 311, "legendY": 7, "title": null, "labelFont": "DejaVu Serif", "labelFontSize": 13, "labelColor": "#222", "labelAlign": "right", "labelOffset": -36, "symbolFillColor": "black", "symbolStrokeColor": "black", "symbolStrokeWidth": 0, "symbolSize": 48, "rowPadding": 2}
      }
    }
  },
  {
    "data": {"name": "lab"},
    "mark": {"type": "text", "font": "DejaVu Serif", "fontSize": 14, "align": "center", "baseline": "middle"},
    "encoding": {
      "x": {"field": "e", "type": "quantitative", "scale": {"domain": [-0.53, -0.5], "nice": false, "zero": false},
        "axis": {"orient": "top", "title": null, "labels": false, "values": [-0.53, -0.525, -0.52, -0.515, -0.51, -0.505, -0.5]}},
      "y": {"field": "c", "type": "quantitative", "scale": {"domain": [0.18, 0.22], "nice": false, "zero": false},
        "axis": {"orient": "right", "title": null, "labels": false, "values": [0.18, 0.185, 0.19, 0.195, 0.2, 0.205, 0.21, 0.215, 0.22]}},
      "text": {"field": "t"},
      "color": {"field": "a", "type": "nominal", "legend": null}
    }
  }
]
}
